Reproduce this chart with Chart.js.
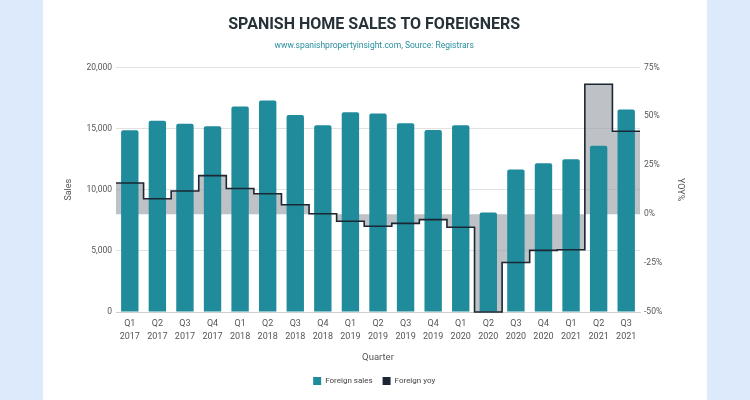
<!DOCTYPE html>
<html>
<head>
<meta charset="utf-8">
<script src="https://cdn.jsdelivr.net/npm/chart.js@4"></script>
<style>
  html, body { margin: 0; padding: 0; width: 750px; height: 400px; background: #dceafb; overflow: hidden; }
  #card { position: absolute; left: 43px; top: 0; width: 664px; height: 400px; background: #ffffff; }
  #c { position: absolute; left: 0; top: 0; }
</style>
</head>
<body>
<div id="card"><canvas id="c" width="664" height="400"></canvas></div>
<script>
const categories = ["Q1 2017","Q2 2017","Q3 2017","Q4 2017","Q1 2018","Q2 2018","Q3 2018","Q4 2018",
  "Q1 2019","Q2 2019","Q3 2019","Q4 2019","Q1 2020","Q2 2020","Q3 2020","Q4 2020","Q1 2021","Q2 2021","Q3 2021"];
const foreignSales = [14860, 15630, 15390, 15190, 16800, 17300, 16100, 15270, 16340, 16230, 15430, 14890,
  15270, 8140, 11660, 12160, 12480, 13600, 16560];
const foreignYoy = [15.9, 7.9, 11.8, 19.7, 13.1, 10.4, 4.8, 0.2, -3.6, -6.2, -4.7, -2.8, -6.7, -50,
  -24.7, -18.5, -18.2, 66.4, 42.4];
const salesTicks = [0, 5000, 10000, 15000, 20000];
const yoyTicks = [-50, -25, 0, 25, 50, 75];

const TEAL = '#1f8b9b';
const NAVY = '#1c2733';
const FONT = 'Roboto';

// step line points: each quarter's value spans its full category slot
const yoyPoints = foreignYoy.map((v, i) => ({ x: i - 0.5, y: v }));
yoyPoints.push({ x: foreignYoy.length - 0.5, y: foreignYoy[foreignYoy.length - 1] });

new Chart(document.getElementById('c'), {
  data: {
    labels: categories.map(c => c.split(' ')),
    datasets: [
      {
        type: 'line',
        label: 'Foreign yoy',
        data: yoyPoints,
        xAxisID: 'xl',
        yAxisID: 'y1',
        stepped: 'before',
        borderColor: NAVY,
        borderWidth: 1.6,
        backgroundColor: 'rgba(155,160,168,0.65)',
        fill: 'origin',
        pointRadius: 0,
        clip: false,
        order: 0
      },
      {
        type: 'bar',
        label: 'Foreign sales',
        data: foreignSales,
        xAxisID: 'x',
        yAxisID: 'y',
        backgroundColor: TEAL,
        borderRadius: { topLeft: 2, topRight: 2 },
        borderSkipped: 'bottom',
        grouped: false,
        barPercentage: 0.63,
        categoryPercentage: 1.0,
        order: 1
      }
    ]
  },
  options: {
    responsive: false,
    animation: false,
    layout: { padding: { left: 16, right: 17.6, top: 0, bottom: 5 } },
    plugins: {
      filler: { drawTime: 'beforeDatasetsDraw' },
      tooltip: { enabled: false },
      title: {
        display: true,
        text: 'SPANISH HOME SALES TO FOREIGNERS',
        color: '#263238',
        font: { family: FONT, size: 16, weight: 'bold' },
        padding: { top: 15, bottom: 7 }
      },
      subtitle: {
        display: true,
        text: 'www.spanishpropertyinsight.com, Source: Registrars',
        color: '#2a8fa0',
        font: { family: FONT, size: 8.5 },
        padding: { top: 0, bottom: 16 }
      },
      legend: {
        position: 'bottom',
        reverse: true,
        labels: {
          boxWidth: 8,
          boxHeight: 8,
          padding: 10,
          color: '#444',
          font: { family: FONT, size: 8 },
          generateLabels: (chart) => {
            const items = Chart.defaults.plugins.legend.labels.generateLabels(chart);
            items.forEach(it => {
              const ds = chart.data.datasets[it.datasetIndex];
              const col = ds.type === 'line' ? ds.borderColor : ds.backgroundColor;
              it.fillStyle = col;
              it.strokeStyle = col;
              it.lineWidth = 0;
            });
            return items;
          }
        }
      }
    },
    scales: {
      x: {
        type: 'category',
        offset: true,
        grid: { display: false, drawTicks: false },
        border: { color: '#cfcfcf' },
        ticks: { color: '#555', font: { family: FONT, size: 9, lineHeight: 1.45 }, maxRotation: 0, autoSkip: false, padding: 5 },
        title: { display: true, text: 'Quarter', color: '#555', font: { family: FONT, size: 9.5 }, padding: { top: 4, bottom: 4 } },
        afterFit: (s) => { s.height = 55; }
      },
      xl: {
        type: 'linear',
        display: false,
        min: -0.5,
        max: categories.length - 0.5
      },
      y: {
        type: 'linear',
        position: 'left',
        min: salesTicks[0],
        max: salesTicks[salesTicks.length - 1],
        afterBuildTicks: (s) => { s.ticks = salesTicks.map(v => ({ value: v })); },
        grid: { color: '#e2e2e2', drawTicks: false },
        border: { display: false },
        ticks: { color: '#555', font: { family: FONT, size: 8.5 }, padding: 4,
          callback: (v) => Number(v).toLocaleString('en-US') },
        title: { display: true, text: 'Sales', color: '#555', font: { family: FONT, size: 9 } },
        afterFit: (s) => { s.width = 57; }
      },
      y1: {
        type: 'linear',
        position: 'right',
        min: yoyTicks[0],
        max: yoyTicks[yoyTicks.length - 1],
        afterBuildTicks: (s) => { s.ticks = yoyTicks.map(v => ({ value: v })); },
        grid: { display: false, drawTicks: false },
        border: { display: false },
        ticks: { color: '#555', font: { family: FONT, size: 8.5 }, padding: 4,
          callback: (v) => v + '%' },
        title: { display: true, text: 'YOY%', color: '#555', font: { family: FONT, size: 9 } },
        afterFit: (s) => { s.width = 49.4; }
      }
    }
  }
});
</script>
</body>
</html>
